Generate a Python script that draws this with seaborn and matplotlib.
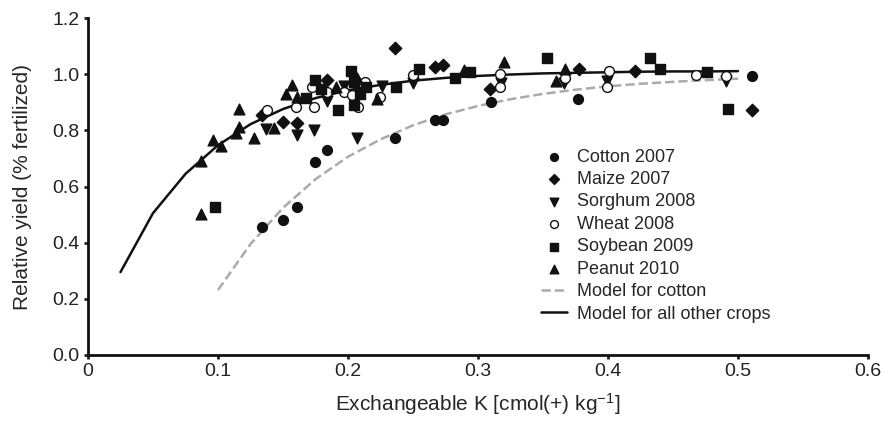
import numpy as np
import pandas as pd
import seaborn as sns
import matplotlib.pyplot as plt

# exchangeable K (cmol(+)/kg) vs relative yield
cotton_x = [0.134, 0.150, 0.161, 0.175, 0.184, 0.236, 0.267, 0.273, 0.310, 0.377, 0.511]
cotton_y = [0.457, 0.480, 0.528, 0.687, 0.731, 0.773, 0.836, 0.836, 0.901, 0.911, 0.995]

maize_x = [0.134, 0.150, 0.161, 0.184, 0.236, 0.267, 0.273, 0.309, 0.378, 0.421, 0.511]
maize_y = [0.854, 0.830, 0.825, 0.981, 1.094, 1.026, 1.034, 0.947, 1.020, 1.011, 0.872]

sorghum_x = [0.137, 0.161, 0.174, 0.207, 0.184, 0.197, 0.226, 0.250, 0.318, 0.366, 0.399, 0.491]
sorghum_y = [0.804, 0.785, 0.801, 0.773, 0.905, 0.957, 0.957, 0.967, 0.969, 0.969, 0.975, 0.975]

wheat_x = [0.138, 0.160, 0.174, 0.172, 0.184, 0.197, 0.203, 0.213, 0.208, 0.225, 0.250,
           0.317, 0.317, 0.367, 0.401, 0.399, 0.468, 0.491]
wheat_y = [0.874, 0.884, 0.884, 0.953, 0.938, 0.938, 0.925, 0.973, 0.884, 0.919, 0.996,
           1.002, 0.953, 0.985, 1.012, 0.953, 0.996, 0.994]

soybean_x = [0.098, 0.175, 0.179, 0.168, 0.192, 0.202, 0.205, 0.209, 0.205, 0.214, 0.237,
             0.255, 0.282, 0.294, 0.353, 0.432, 0.440, 0.476, 0.492]
soybean_y = [0.528, 0.979, 0.946, 0.917, 0.874, 1.012, 0.973, 0.928, 0.890, 0.955, 0.955,
             1.018, 0.987, 1.008, 1.058, 1.058, 1.019, 1.009, 0.877]

peanut_x = [0.087, 0.087, 0.096, 0.102, 0.114, 0.116, 0.116, 0.128, 0.143, 0.152, 0.157,
            0.161, 0.191, 0.207, 0.222, 0.289, 0.320, 0.360, 0.367]
peanut_y = [0.502, 0.690, 0.765, 0.745, 0.792, 0.875, 0.812, 0.773, 0.807, 0.928, 0.961,
            0.919, 0.953, 0.988, 0.910, 1.014, 1.042, 0.976, 1.018]

# fitted model curves as drawn (polylines)
cotton_model_x = [0.100, 0.125, 0.150, 0.175, 0.200, 0.225, 0.250, 0.275, 0.300,
                  0.325, 0.350, 0.375, 0.400, 0.425, 0.450, 0.475, 0.500]
cotton_model_y = [0.231, 0.395, 0.524, 0.626, 0.706, 0.768, 0.818, 0.857, 0.887,
                  0.911, 0.930, 0.945, 0.957, 0.966, 0.973, 0.979, 0.984]

other_model_x = [0.025, 0.050, 0.075, 0.100, 0.125, 0.150, 0.175, 0.200, 0.225, 0.250,
                 0.275, 0.300, 0.325, 0.350, 0.375, 0.400, 0.425, 0.450, 0.475, 0.500]
other_model_y = [0.295, 0.505, 0.645, 0.747, 0.822, 0.876, 0.915, 0.943, 0.962, 0.977,
                 0.987, 0.994, 0.999, 1.003, 1.005, 1.007, 1.009, 1.010, 1.010, 1.011]

sns.set_style('ticks')
plt.rcParams['font.family'] = ['Liberation Sans', 'DejaVu Sans']
plt.rcParams['mathtext.fontset'] = 'custom'
plt.rcParams['mathtext.rm'] = 'Liberation Sans'
plt.rcParams['mathtext.it'] = 'Liberation Sans:italic'

fig = plt.figure(figsize=(8.86, 4.21), dpi=100)
ax = fig.add_axes([0.0993, 0.157, 0.8804, 0.8])

dark = '#111111'

sns.lineplot(x=cotton_model_x, y=cotton_model_y, ax=ax, color='#aaaaaa', lw=1.8,
             dashes=(4, 3), linestyle='--', label='Model for cotton', zorder=1)
sns.lineplot(x=other_model_x, y=other_model_y, ax=ax, color=dark, lw=1.8,
             label='Model for all other crops', zorder=1)

crops = [
    ('Cotton 2007', cotton_x, cotton_y, 'o', dark, 50),
    ('Maize 2007', maize_x, maize_y, 'D', dark, 40),
    ('Sorghum 2008', sorghum_x, sorghum_y, 'v', dark, 60),
    ('Wheat 2008', wheat_x, wheat_y, 'o', 'white', 50),
    ('Soybean 2009', soybean_x, soybean_y, 's', dark, 50),
    ('Peanut 2010', peanut_x, peanut_y, '^', dark, 60),
]
for name, xs, ys, mk, fc, sz in crops:
    df = pd.DataFrame({'k': xs, 'ry': ys})
    sns.scatterplot(data=df, x='k', y='ry', ax=ax, marker=mk, s=sz, color=fc,
                    edgecolor=dark, linewidth=1.0, label=name, zorder=3)

ax.set_xlim(0, 0.6)
ax.set_ylim(0, 1.2)
ax.set_xticks(np.arange(0, 0.61, 0.1))
ax.set_xticklabels(['0', '0.1', '0.2', '0.3', '0.4', '0.5', '0.6'])
ax.set_yticks(np.arange(0, 1.21, 0.2))
ax.set_yticklabels(['0.0', '0.2', '0.4', '0.6', '0.8', '1.0', '1.2'])
ax.tick_params(labelsize=14, length=3, width=2, colors='#222222', pad=3)
for side in ['left', 'bottom']:
    ax.spines[side].set_linewidth(2)
    ax.spines[side].set_color('#111111')
sns.despine(ax=ax)

ax.set_xlabel('Exchangeable K [cmol(+) kg$^{-1}$]', fontsize=15, labelpad=8)
ax.set_ylabel('Relative yield (% fertilized)', fontsize=15, labelpad=15)

handles, labels = ax.get_legend_handles_labels()
order = ['Cotton 2007', 'Maize 2007', 'Sorghum 2008', 'Wheat 2008', 'Soybean 2009',
         'Peanut 2010', 'Model for cotton', 'Model for all other crops']
hmap = dict(zip(labels, handles))
ax.legend([hmap[o] for o in order], order, loc='upper left', bbox_to_anchor=(0.572, 0.634),
          frameon=False, fontsize=13, handlelength=1.4, handletextpad=0.55,
          labelspacing=0.3, markerscale=0.8, borderaxespad=0)

fig.savefig('out.png', dpi=100)
